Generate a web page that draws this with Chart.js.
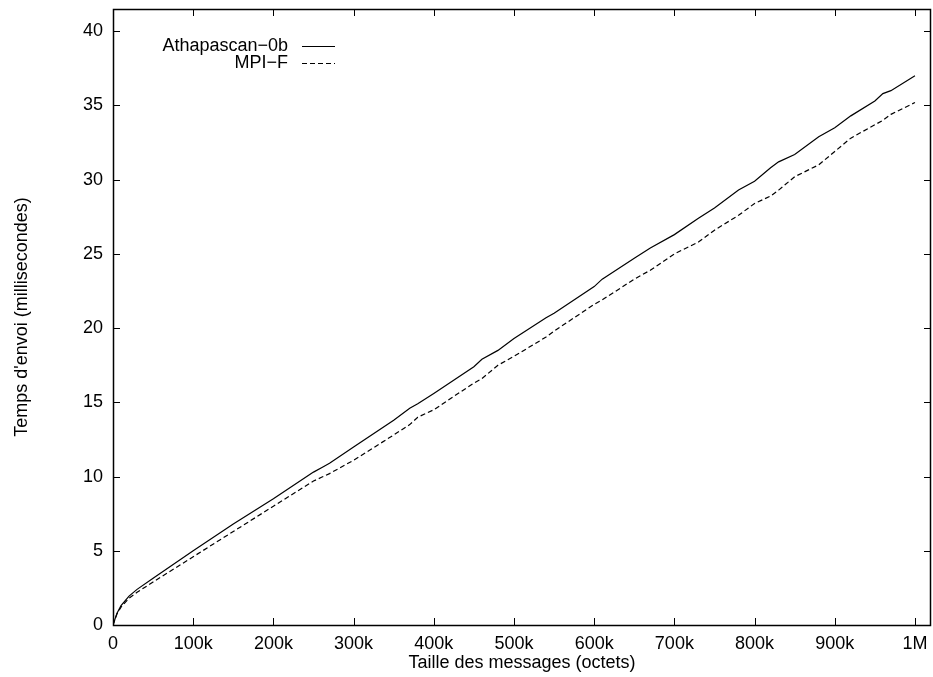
<!DOCTYPE html>
<html>
<head>
<meta charset="utf-8">
<script src="https://cdn.jsdelivr.net/npm/chart.js@4/dist/chart.umd.min.js"></script>
<style>
  html, body { margin: 0; padding: 0; background: #fff; }
  #wrap { width: 933px; height: 677px; }
</style>
</head>
<body>
<div id="wrap"><canvas id="chart"></canvas></div>
<script>
// message sizes (bytes)
const msgSizes = [0, 5000, 10000, 20000, 30000, 50000, 100000, 150000, 200000, 250000,
    260000, 270000, 300000, 350000, 370000, 380000, 400000, 450000, 460000, 480000,
    500000, 540000, 550000, 600000, 610000, 650000, 670000, 700000, 730000, 750000,
    780000, 800000, 820000, 830000, 850000, 880000, 900000, 920000, 950000, 960000,
    970000, 1000000]
// send time (ms)
const athapascan = [0, 0.8, 1.3, 1.95, 2.4, 3.15, 5.0, 6.8, 8.5, 10.3,
    10.6, 10.9, 12.0, 13.8, 14.6, 14.9, 15.6, 17.4, 17.9, 18.5,
    19.3, 20.7, 21.0, 22.8, 23.3, 24.7, 25.4, 26.3, 27.4, 28.1,
    29.3, 29.9, 30.8, 31.2, 31.7, 32.9, 33.5, 34.3, 35.3, 35.8,
    36.0, 37.0]
const mpiF = [0, 0.75, 1.2, 1.8, 2.2, 2.9, 4.6, 6.3, 8.0, 9.7,
    9.95, 10.2, 11.1, 12.8, 13.5, 14.0, 14.5, 16.3, 16.6, 17.5,
    18.1, 19.4, 19.8, 21.6, 21.9, 23.3, 23.9, 25.0, 25.8, 26.6,
    27.6, 28.4, 28.9, 29.3, 30.2, 31.0, 31.9, 32.8, 33.7, 34.0,
    34.4, 35.2]
const seriesNames = ["Athapascan\u22120b", "MPI\u2212F"]
const xTicks = [0, 100000, 200000, 300000, 400000, 500000, 600000, 700000, 800000, 900000, 1000000]
const yTicks = [0, 5, 10, 15, 20, 25, 30, 35, 40]
const xTitle = "Taille des messages (octets)"
const yTitle = "Temps d'envoi (millisecondes)"

const FONT = "'Liberation Sans', Arial, Helvetica, sans-serif"

const toPoints = (ys) => msgSizes.map((x, i) => ({x, y: ys[i]}))

const xLabel = (v) => {
    if (v === 0) return "0"
    if (v >= 1000000) return (v / 1000000) + "M"
    return (v / 1000) + "k"
}

// box + inward ticks, gnuplot style
const frame = {
    id: 'frame',
    afterDatasetsDraw(chart) {
        const {ctx, chartArea: a, scales} = chart
        const tl = 7
        ctx.save()
        ctx.strokeStyle = '#000'
        ctx.lineWidth = 1
        ctx.beginPath()
        scales.x.ticks.forEach(t => {
            const px = Math.round(scales.x.getPixelForValue(t.value)) + 0.5
            ctx.moveTo(px, a.bottom); ctx.lineTo(px, a.bottom - tl)
            ctx.moveTo(px, a.top); ctx.lineTo(px, a.top + tl)
        })
        scales.y.ticks.forEach(t => {
            const py = Math.round(scales.y.getPixelForValue(t.value)) + 0.5
            ctx.moveTo(a.left, py); ctx.lineTo(a.left + tl, py)
            ctx.moveTo(a.right, py); ctx.lineTo(a.right - tl, py)
        })
        ctx.stroke()
        ctx.lineWidth = 1.5
        ctx.strokeRect(Math.round(a.left) + 0.5, Math.round(a.top) + 0.5,
            Math.round(a.right - a.left) - 1, Math.round(a.bottom - a.top))
        ctx.restore()
    }
}

// legend: right aligned text, sample line after it
const keyBox = {
    id: 'keyBox',
    afterDatasetsDraw(chart) {
        const {ctx} = chart
        ctx.save()
        ctx.font = "18px " + FONT
        ctx.fillStyle = '#000'
        ctx.textAlign = 'right'
        ctx.textBaseline = 'middle'
        chart.data.datasets.forEach((ds, i) => {
            const y = 46 + i * 17
            ctx.fillText(ds.label, 288, y)
            ctx.strokeStyle = ds.borderColor
            ctx.lineWidth = ds.borderWidth
            ctx.setLineDash(ds.borderDash || [])
            ctx.beginPath()
            ctx.moveTo(302, y + 0.5)
            ctx.lineTo(335, y + 0.5)
            ctx.stroke()
        })
        ctx.restore()
    }
}

new Chart(document.getElementById('chart'), {
    type: 'line',
    data: {
        datasets: [{
            label: seriesNames[0],
            data: toPoints(athapascan),
            borderColor: '#000',
            borderWidth: 1.2,
            pointRadius: 0,
            tension: 0
        }, {
            label: seriesNames[1],
            data: toPoints(mpiF),
            borderColor: '#000',
            borderWidth: 1.2,
            borderDash: [5, 3],
            pointRadius: 0,
            tension: 0
        }]
    },
    options: {
        responsive: true,
        maintainAspectRatio: false,
        animation: false,
        layout: {padding: {top: 9, right: 2, left: 0, bottom: 0}},
        plugins: {legend: {display: false}, tooltip: {enabled: false}},
        scales: {
            x: {
                type: 'linear',
                min: 0,
                max: 1020000,
                grid: {display: false, drawTicks: false},
                border: {display: false},
                afterBuildTicks: (s) => { s.ticks = xTicks.map(value => ({value})) },
                ticks: {
                    autoSkip: false,
                    maxRotation: 0,
                    padding: 8,
                    color: '#000',
                    font: {family: FONT, size: 18},
                    callback: (v) => xLabel(v)
                },
                title: {
                    display: true,
                    text: xTitle,
                    color: '#000',
                    font: {family: FONT, size: 18},
                    padding: {top: 0, bottom: 3}
                },
                afterFit: (s) => {
                    s.height = 52
                    s.paddingLeft = 0
                    s.paddingRight = 0
                }
            },
            y: {
                min: 0,
                max: 41.5,
                grid: {display: false, drawTicks: false},
                border: {display: false},
                afterBuildTicks: (s) => { s.ticks = yTicks.map(value => ({value})) },
                ticks: {
                    padding: 10,
                    color: '#000',
                    font: {family: FONT, size: 18}
                },
                title: {
                    display: true,
                    text: yTitle,
                    color: '#000',
                    font: {family: FONT, size: 18},
                    padding: {top: 11, bottom: 0}
                },
                afterFit: (s) => {
                    s.width = 113
                    s.paddingTop = 0
                    s.paddingBottom = 0
                }
            }
        }
    },
    plugins: [frame, keyBox]
})
</script>
</body>
</html>
